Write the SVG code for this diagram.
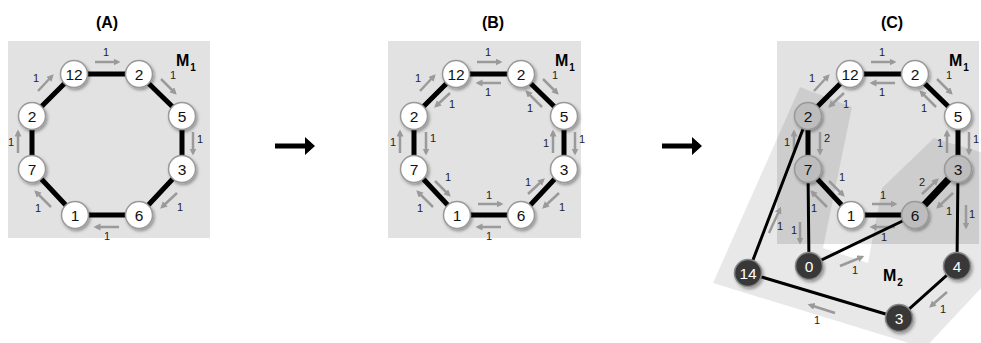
<svg xmlns="http://www.w3.org/2000/svg" width="981" height="343" viewBox="0 0 981 343">
<style>
.bg{fill:#e2e2e2}
.e{stroke:#000;stroke-width:5;fill:none;stroke-linejoin:round}
.t{stroke:#000;stroke-width:3;fill:none}
.ar{stroke:#9a9a9a;stroke-width:2.5;fill:none;marker-end:url(#ah)}
.lb{font-family:'Liberation Sans',Arial,sans-serif;font-size:11px;fill:#222;text-anchor:middle}
.ti{font-family:'Liberation Sans',Arial,sans-serif;font-size:16px;font-weight:bold;text-anchor:middle}
.m{font-family:'Liberation Sans',Arial,sans-serif;font-size:16px;font-weight:bold}
.nw circle{fill:#fff;stroke:#999;stroke-width:1.5}
.ng circle{fill:#bdbdbd;stroke:#999;stroke-width:1.5}
.nd circle{fill:#383838;stroke:#888;stroke-width:1.5}
.n circle{r:13.5;filter:url(#sh)}
.n text{font-family:'Liberation Sans',Arial,sans-serif;font-size:15.5px;text-anchor:middle;fill:#111}
.nd text{fill:#fff}
</style>
<defs>
<marker id="ah" markerUnits="userSpaceOnUse" markerWidth="8" markerHeight="8" refX="4.5" refY="3.5" orient="auto"><path d="M0,0 L7,3.5 L0,7 z" fill="#9a9a9a"/></marker>
<filter id="sh" x="-50%" y="-50%" width="200%" height="200%"><feDropShadow dx="1.5" dy="2" stdDeviation="1.8" flood-color="#000" flood-opacity="0.35"/></filter>
</defs>

<!-- titles -->
<text class="ti" x="107" y="28">(A)</text>
<text class="ti" x="493" y="28">(B)</text>
<text class="ti" x="892" y="28">(C)</text>

<!-- backgrounds -->
<rect class="bg" x="8" y="41" width="202" height="197"/>
<rect class="bg" x="388" y="41" width="193" height="197"/>
<rect x="777" y="41" width="202" height="203" fill="#000" fill-opacity="0.115"/>
<polygon points="800,87 852,107 823,248 868,263 882,188 934,138 1000,158 1000,268 925,348 713,283" fill="#000" fill-opacity="0.09"/>

<text class="m" x="176" y="66">M<tspan font-size="10" dx="1" dy="5">1</tspan></text>
<text class="m" x="555" y="66">M<tspan font-size="10" dx="1" dy="5">1</tspan></text>
<text class="m" x="949" y="66">M<tspan font-size="10" dx="1" dy="5">1</tspan></text>
<text class="m" x="883" y="281">M<tspan font-size="10" dx="1" dy="5">2</tspan></text>

<!-- big arrows -->
<path d="M275,143.5 H305 V137 L315,146 L305,155 V148.5 H275 Z" fill="#000"/>
<path d="M662,143.5 H692 V137 L702,146 L692,155 V148.5 H662 Z" fill="#000"/>

<g id="connectors">
<!-- Panel A -->
<path class="e" d="M74,74 L139,74 L182,116 L182,169 L139,215 L75,215 L32,169 L32,116 Z"/>
<line class="ar" x1="95" y1="62" x2="118" y2="62"/>
<line class="ar" x1="161" y1="79" x2="175" y2="93"/>
<line class="ar" x1="193" y1="132" x2="193" y2="153"/>
<line class="ar" x1="177" y1="193" x2="162" y2="207"/>
<line class="ar" x1="119" y1="227" x2="96" y2="227"/>
<line class="ar" x1="51" y1="207" x2="36" y2="192"/>
<line class="ar" x1="18" y1="153" x2="18" y2="132"/>
<line class="ar" x1="38" y1="91" x2="52" y2="76"/>
<text class="lb" x="106" y="56">1</text>
<text class="lb" x="173" y="79">1</text>
<text class="lb" x="200" y="143">1</text>
<text class="lb" x="180" y="211">1</text>
<text class="lb" x="107" y="240">1</text>
<text class="lb" x="38" y="212">1</text>
<text class="lb" x="11" y="146">1</text>
<text class="lb" x="36" y="82">1</text>

<!-- Panel B -->
<path class="e" d="M456,74 L521,74 L564,116 L564,169 L521,215 L457,215 L414,169 L414,116 Z"/>
<line class="ar" x1="477" y1="62" x2="500" y2="62"/>
<line class="ar" x1="543" y1="79" x2="557" y2="93"/>
<line class="ar" x1="575" y1="132" x2="575" y2="153"/>
<line class="ar" x1="559" y1="193" x2="544" y2="207"/>
<line class="ar" x1="501" y1="227" x2="478" y2="227"/>
<line class="ar" x1="433" y1="207" x2="418" y2="192"/>
<line class="ar" x1="400" y1="153" x2="400" y2="132"/>
<line class="ar" x1="420" y1="91" x2="434" y2="76"/>
<line class="ar" x1="501" y1="83" x2="478" y2="83"/>
<line class="ar" x1="542" y1="107" x2="527" y2="92"/>
<line class="ar" x1="553" y1="153" x2="553" y2="132"/>
<line class="ar" x1="528" y1="194" x2="543" y2="180"/>
<line class="ar" x1="478" y1="204" x2="501" y2="204"/>
<line class="ar" x1="435" y1="181" x2="449" y2="195"/>
<line class="ar" x1="426" y1="132" x2="426" y2="153"/>
<line class="ar" x1="450" y1="93" x2="436" y2="106"/>
<text class="lb" x="488" y="56">1</text>
<text class="lb" x="555" y="79">1</text>
<text class="lb" x="582" y="143">1</text>
<text class="lb" x="562" y="211">1</text>
<text class="lb" x="489" y="240">1</text>
<text class="lb" x="420" y="212">1</text>
<text class="lb" x="393" y="146">1</text>
<text class="lb" x="418" y="82">1</text>
<text class="lb" x="488" y="96">1</text>
<text class="lb" x="530" y="112">1</text>
<text class="lb" x="546" y="147">1</text>
<text class="lb" x="528" y="186">1</text>
<text class="lb" x="489" y="199">1</text>
<text class="lb" x="448" y="181">1</text>
<text class="lb" x="433" y="142">1</text>
<text class="lb" x="452" y="108">1</text>

<!-- Panel C -->
<line class="ar" x1="871" y1="62" x2="894" y2="62"/>
<line class="ar" x1="937" y1="79" x2="951" y2="93"/>
<line class="ar" x1="969" y1="132" x2="969" y2="153"/>
<line class="ar" x1="953" y1="193" x2="938" y2="207"/>
<line class="ar" x1="895" y1="227" x2="872" y2="227"/>
<line class="ar" x1="827" y1="207" x2="812" y2="192"/>
<line class="ar" x1="794" y1="153" x2="794" y2="132"/>
<line class="ar" x1="814" y1="91" x2="828" y2="76"/>
<line class="ar" x1="895" y1="83" x2="872" y2="83"/>
<line class="ar" x1="936" y1="107" x2="921" y2="92"/>
<line class="ar" x1="947" y1="153" x2="947" y2="132"/>
<line class="ar" x1="922" y1="194" x2="937" y2="180"/>
<line class="ar" x1="872" y1="204" x2="895" y2="204"/>
<line class="ar" x1="829" y1="181" x2="843" y2="195"/>
<line class="ar" x1="820" y1="132" x2="820" y2="153"/>
<line class="ar" x1="844" y1="93" x2="830" y2="106"/>
<line class="ar" x1="769" y1="233" x2="780" y2="209"/>
<line class="ar" x1="800" y1="222" x2="800" y2="242"/>
<line class="ar" x1="840" y1="266" x2="862" y2="257"/>
<line class="ar" x1="966" y1="205" x2="966" y2="227"/>
<line class="ar" x1="947" y1="292" x2="931" y2="306"/>
<line class="ar" x1="835" y1="313" x2="810" y2="305"/>
<path class="t" d="M808,116 L748,273 M808,169 L809,266 L915,215 M958,169 L957,266 L899,318 L748,273"/>
<path class="e" d="M808,169 L808,116 L850,74 L915,74 L958,116 L958,169 M808,169 L851,215 L915,215"/>
<path class="e" style="stroke-width:7" d="M915,215 L958,169"/>
<text class="lb" x="882" y="56">1</text>
<text class="lb" x="949" y="79">1</text>
<text class="lb" x="976" y="143">1</text>
<text class="lb" x="949" y="215">1</text>
<text class="lb" x="884" y="241">1</text>
<text class="lb" x="814" y="212">1</text>
<text class="lb" x="787" y="146">1</text>
<text class="lb" x="812" y="82">1</text>
<text class="lb" x="882" y="96">1</text>
<text class="lb" x="924" y="112">1</text>
<text class="lb" x="940" y="147">1</text>
<text class="lb" x="922" y="186">2</text>
<text class="lb" x="883" y="199">1</text>
<text class="lb" x="842" y="181">1</text>
<text class="lb" x="827" y="142">2</text>
<text class="lb" x="846" y="108">1</text>
<text class="lb" x="780" y="230">1</text>
<text class="lb" x="794" y="234">1</text>
<text class="lb" x="855" y="274">1</text>
<text class="lb" x="972" y="218">1</text>
<text class="lb" x="943" y="313">1</text>
<text class="lb" x="817" y="324">1</text>
</g>

<!-- Panel A nodes -->
<g id="a12" class="n nw"><circle cx="74" cy="74"/><text x="74" y="79.5">12</text></g>
<g id="a2" class="n nw"><circle cx="139" cy="74"/><text x="139" y="79.5">2</text></g>
<g id="a5" class="n nw"><circle cx="182" cy="116"/><text x="182" y="121.5">5</text></g>
<g id="a3" class="n nw"><circle cx="182" cy="169"/><text x="182" y="174.5">3</text></g>
<g id="a6" class="n nw"><circle cx="139" cy="215"/><text x="139" y="220.5">6</text></g>
<g id="a1" class="n nw"><circle cx="75" cy="215"/><text x="75" y="220.5">1</text></g>
<g id="a7" class="n nw"><circle cx="32" cy="169"/><text x="32" y="174.5">7</text></g>
<g id="a2b" class="n nw"><circle cx="32" cy="116"/><text x="32" y="121.5">2</text></g>

<!-- Panel B nodes -->
<g id="b12" class="n nw"><circle cx="456" cy="74"/><text x="456" y="79.5">12</text></g>
<g id="b2" class="n nw"><circle cx="521" cy="74"/><text x="521" y="79.5">2</text></g>
<g id="b5" class="n nw"><circle cx="564" cy="116"/><text x="564" y="121.5">5</text></g>
<g id="b3" class="n nw"><circle cx="564" cy="169"/><text x="564" y="174.5">3</text></g>
<g id="b6" class="n nw"><circle cx="521" cy="215"/><text x="521" y="220.5">6</text></g>
<g id="b1" class="n nw"><circle cx="457" cy="215"/><text x="457" y="220.5">1</text></g>
<g id="b7" class="n nw"><circle cx="414" cy="169"/><text x="414" y="174.5">7</text></g>
<g id="b2b" class="n nw"><circle cx="414" cy="116"/><text x="414" y="121.5">2</text></g>

<!-- Panel C nodes -->
<g id="c12" class="n nw"><circle cx="850" cy="74"/><text x="850" y="79.5">12</text></g>
<g id="c2" class="n nw"><circle cx="915" cy="74"/><text x="915" y="79.5">2</text></g>
<g id="c5" class="n nw"><circle cx="958" cy="116"/><text x="958" y="121.5">5</text></g>
<g id="c3" class="n ng"><circle cx="958" cy="169"/><text x="958" y="174.5">3</text></g>
<g id="c6" class="n ng"><circle cx="915" cy="215"/><text x="915" y="220.5">6</text></g>
<g id="c1" class="n nw"><circle cx="851" cy="215"/><text x="851" y="220.5">1</text></g>
<g id="c7" class="n ng"><circle cx="808" cy="169"/><text x="808" y="174.5">7</text></g>
<g id="c2b" class="n ng"><circle cx="808" cy="116"/><text x="808" y="121.5">2</text></g>
<g id="c0" class="n nd"><circle cx="809" cy="266"/><text x="809" y="271.5">0</text></g>
<g id="c14" class="n nd"><circle cx="748" cy="273"/><text x="748" y="278.5">14</text></g>
<g id="c4" class="n nd"><circle cx="957" cy="266"/><text x="957" y="271.5">4</text></g>
<g id="c3b" class="n nd"><circle cx="899" cy="318"/><text x="899" y="323.5">3</text></g>
</svg>
